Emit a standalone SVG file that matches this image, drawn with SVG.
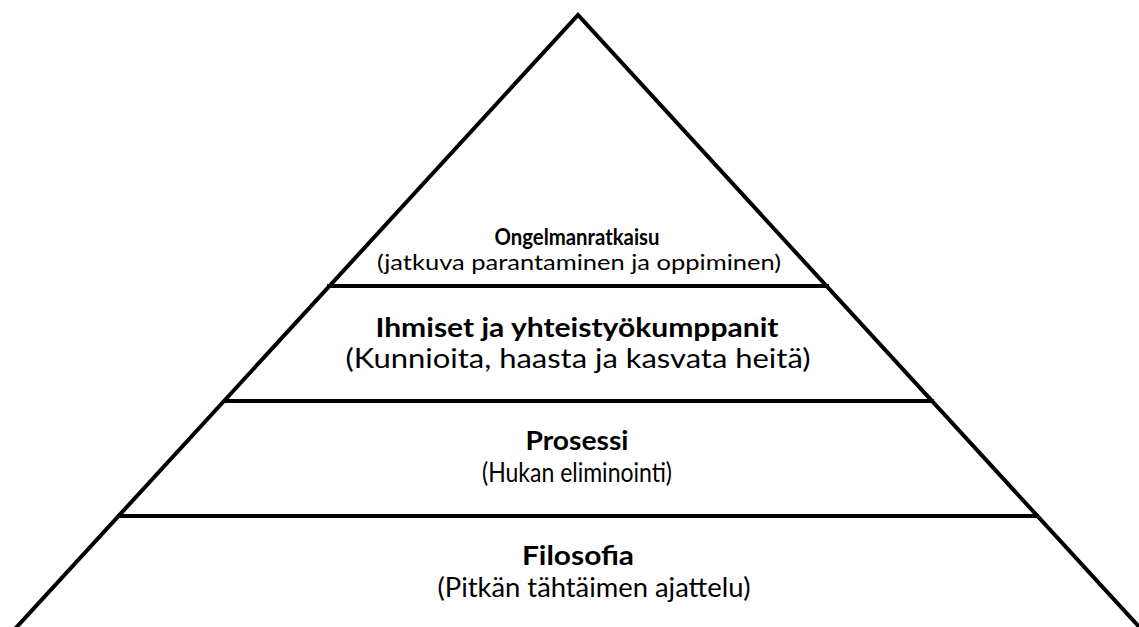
<svg xmlns="http://www.w3.org/2000/svg" width="1139" height="627" viewBox="0 0 1139 627">
<style>
.ln{stroke:#000;stroke-width:4;fill:none;stroke-linecap:butt}
.t{font-family:Lato,"Open Sans","Liberation Sans",sans-serif;fill:#000;text-anchor:middle}
.b{font-weight:bold}
.big{font-size:26px}
</style>
<rect width="1139" height="627" fill="#fff"/>
<g id="connectors">
<polyline class="ln" points="14,630 578,15 1142,630" stroke-linejoin="miter"/>
<line class="ln" x1="327" y1="286" x2="829" y2="286"/>
<line class="ln" x1="223" y1="401" x2="934" y2="401"/>
<line class="ln" x1="117" y1="516" x2="1039" y2="516"/>
</g>
<g id="level4">
<text class="t b" x="577" y="245" font-size="23" textLength="165" lengthAdjust="spacingAndGlyphs">Ongelmanratkaisu</text>
<text class="t" x="579" y="270" font-size="22" textLength="404" lengthAdjust="spacingAndGlyphs">(jatkuva parantaminen ja oppiminen)</text>
</g>
<g id="level3">
<text class="t b big" x="577" y="337" textLength="403" lengthAdjust="spacingAndGlyphs">Ihmiset ja yhteistyökumppanit</text>
<text class="t big" x="578" y="368" textLength="465" lengthAdjust="spacingAndGlyphs">(Kunnioita, haasta ja kasvata heitä)</text>
</g>
<g id="level2">
<text class="t b big" x="577" y="450" textLength="103" lengthAdjust="spacingAndGlyphs">Prosessi</text>
<text class="t big" x="577" y="482" textLength="190" lengthAdjust="spacingAndGlyphs">(Hukan eliminointi)</text>
</g>
<g id="level1">
<text class="t b big" x="578" y="565" textLength="112" lengthAdjust="spacingAndGlyphs">Filosofia</text>
<text class="t big" x="594" y="597" textLength="313" lengthAdjust="spacingAndGlyphs">(Pitkän tähtäimen ajattelu)</text>
</g>
</svg>
